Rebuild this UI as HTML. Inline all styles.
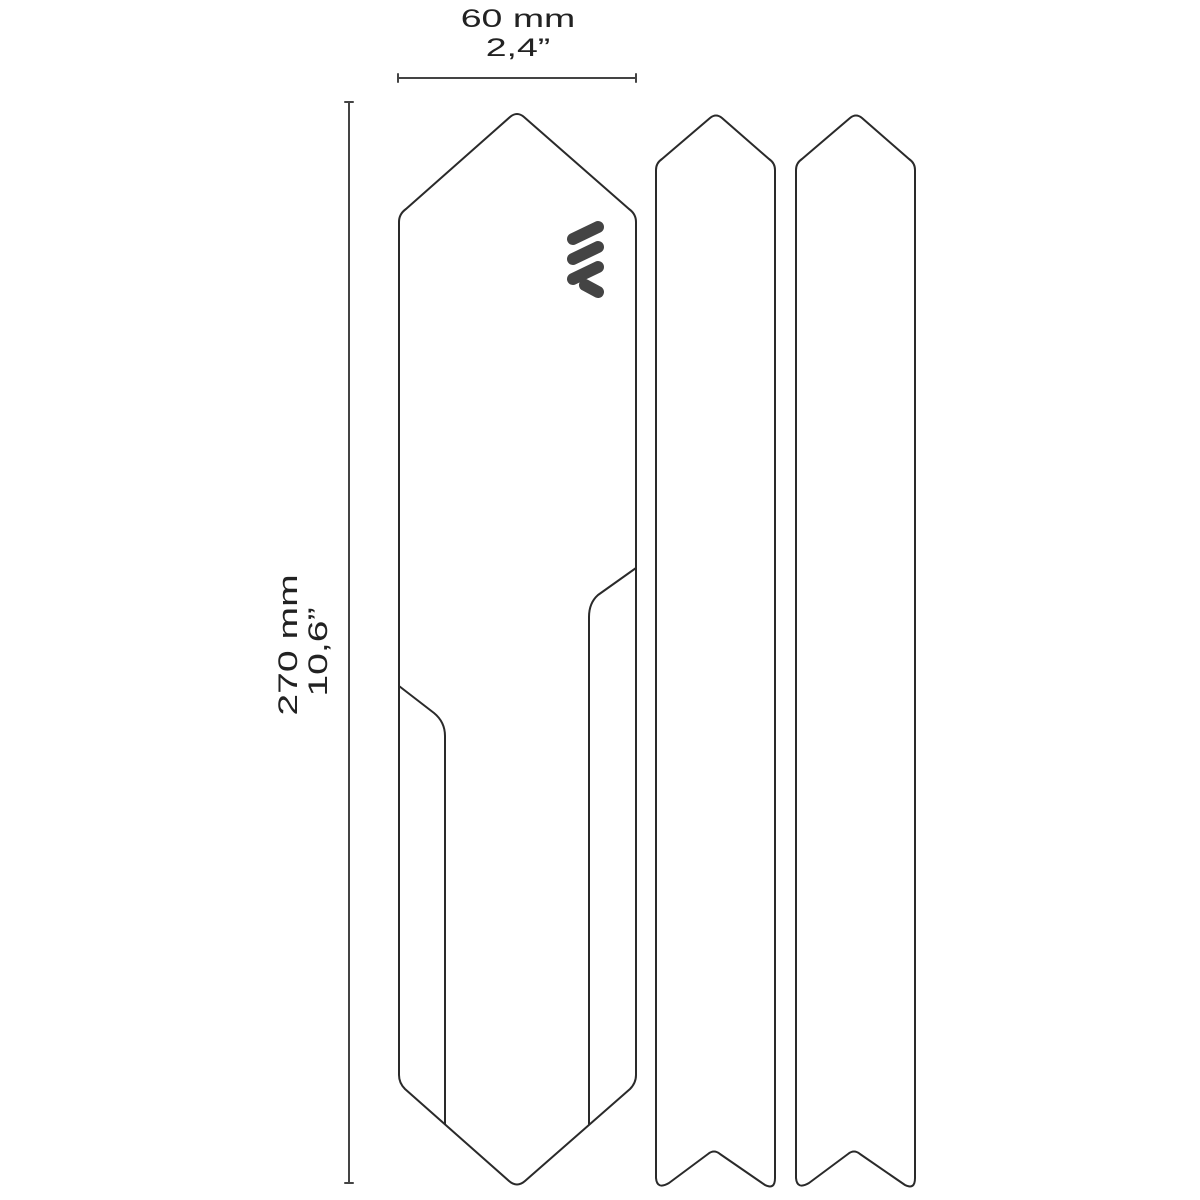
<!DOCTYPE html>
<html><head><meta charset="utf-8"><style>
html,body{margin:0;padding:0;background:#fff;}
svg{display:block;}
text{font-family:"Liberation Sans",sans-serif;fill:#222;}
</style></head><body>
<svg width="1200" height="1200" viewBox="0 0 1200 1200" xmlns="http://www.w3.org/2000/svg">
<rect width="1200" height="1200" fill="#fff"/>
<g fill="none" stroke="#2a2a2a" stroke-width="2" stroke-linejoin="round" stroke-linecap="round">
  <line x1="398" y1="78" x2="636" y2="78" stroke="#444"/>
  <line x1="398" y1="74" x2="398" y2="82" stroke="#444"/>
  <line x1="636" y1="74" x2="636" y2="82" stroke="#444"/>
  <line x1="349" y1="102" x2="349" y2="1183" stroke="#444"/>
  <line x1="345" y1="102" x2="353" y2="102" stroke="#444"/>
  <line x1="345" y1="1183" x2="353" y2="1183" stroke="#444"/>
  <path d="M399 222 Q399 214 406 209 L510 117 Q517 111 524 117 L629 209 Q636 214 636 222 L636 1075 Q636 1083 630 1089 L525 1181 Q517 1188 509 1181 L405 1089 Q399 1083 399 1075 Z"/>
  <path d="M399 686 L434 713 Q445 722 445 736 L445 1124"/>
  <path d="M636 568 L598 595 Q589 603 589 617 L589 1124"/>
  <path d="M656 170 Q656 163 662 159 L710 118 Q716 113 722 118 L769 159 Q775 163 775 170 L775 1178 Q775 1190 765 1185 L720 1154 Q714 1149 708 1154 L669 1183 Q657 1190 656 1178 Z"/>
  <path d="M796 170 Q796 163 802 159 L850 118 Q856 113 862 118 L909 159 Q915 163 915 170 L915 1178 Q915 1190 905 1185 L860 1154 Q854 1149 848 1154 L809 1183 Q797 1190 796 1178 Z"/>
</g>
<g stroke="#444" stroke-width="12" stroke-linecap="round" fill="none">
  <line x1="573" y1="239" x2="598" y2="227"/>
  <line x1="573" y1="259" x2="598" y2="247"/>
  <line x1="573" y1="279" x2="598" y2="267"/>
  <line x1="585" y1="285" x2="598" y2="292"/>
</g>
<text transform="translate(518,27) scale(1.5,1)" font-size="25" text-anchor="middle">60 mm</text>
<text transform="translate(518,56) scale(1.5,1)" font-size="25" text-anchor="middle">2,4”</text>
<text transform="translate(297,645) rotate(-90) scale(1.45,1)" font-size="27" text-anchor="middle">270 mm</text>
<text transform="translate(327,652) rotate(-90) scale(1.45,1)" font-size="27" text-anchor="middle">10,6”</text>
</svg>
</body></html>
